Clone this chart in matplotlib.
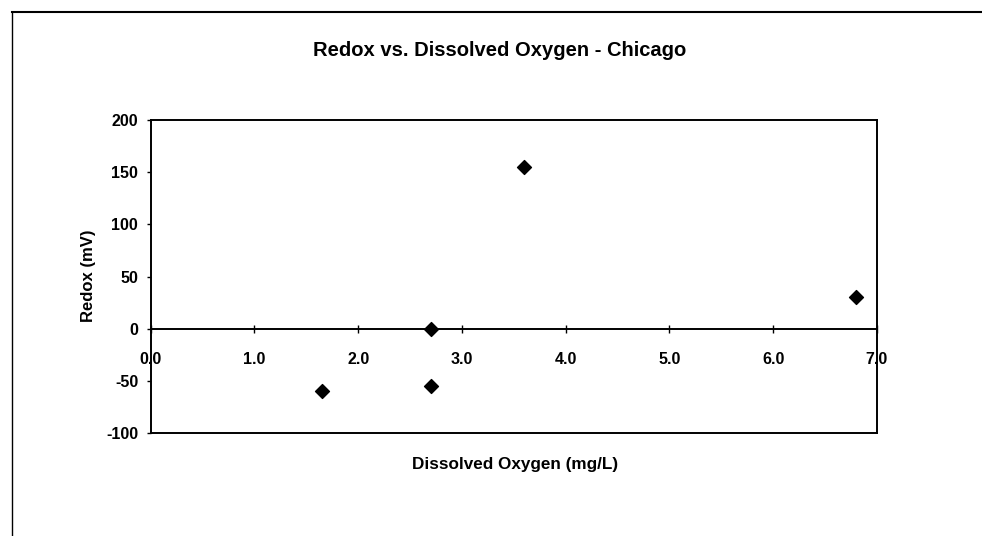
import matplotlib
matplotlib.use("Agg")
import matplotlib.pyplot as plt
from matplotlib.lines import Line2D

# data
dissolved_oxygen = [1.65, 2.7, 2.7, 3.6, 6.8]
redox = [-60, 0, -55, 155, 30]

x_ticks = [0, 1, 2, 3, 4, 5, 6, 7]
y_ticks = [-100, -50, 0, 50, 100, 150, 200]

plt.rcParams["font.family"] = ["Liberation Sans", "DejaVu Sans"]
plt.rcParams["font.weight"] = "bold"
plt.rcParams["axes.unicode_minus"] = False

fig = plt.figure(figsize=(9.82, 5.36), dpi=100)
ax = fig.add_axes([0.1535, 0.192, 0.7395, 0.584])

ax.scatter(dissolved_oxygen, redox, marker="D", s=50, color="black", zorder=3)

ax.set_xlim(0, 7)
ax.set_ylim(-100, 200)

# x axis sits on the zero line, frame still closed at -100
ax.spines["bottom"].set_position(("data", 0))
ax.axhline(-100, color="black", lw=1.4, clip_on=False)
for s in ["left", "right", "top", "bottom"]:
    ax.spines[s].set_linewidth(1.4)

ax.set_xticks(x_ticks)
ax.set_xticklabels(["%.1f" % v for v in x_ticks])
ax.set_yticks(y_ticks)
ax.tick_params(axis="x", direction="inout", length=6, width=1, labelsize=11.5, pad=14)
ax.tick_params(axis="y", direction="out", length=3, width=1, labelsize=11.5, pad=6)

fig.text(88 / 982, 1 - 276 / 536, "Redox (mV)", rotation=90, ha="center", va="center",
         fontsize=12, fontweight="bold")
fig.text(515 / 982, 1 - 465 / 536, "Dissolved Oxygen (mg/L)", ha="center", va="center",
         fontsize=12.3, fontweight="bold")
fig.text(500 / 982, 1 - 50 / 536, "Redox vs. Dissolved Oxygen - Chicago", ha="center", va="center",
         fontsize=14.5, fontweight="bold")

# outer frame of the scanned page (top and left edges only)
fig.add_artist(Line2D([12 / 982, 1], [1 - 12 / 536, 1 - 12 / 536], color="black", lw=1.5))
fig.add_artist(Line2D([12 / 982, 12 / 982], [0, 1 - 12 / 536], color="black", lw=1.0))

fig.savefig("out.png", dpi=100)
